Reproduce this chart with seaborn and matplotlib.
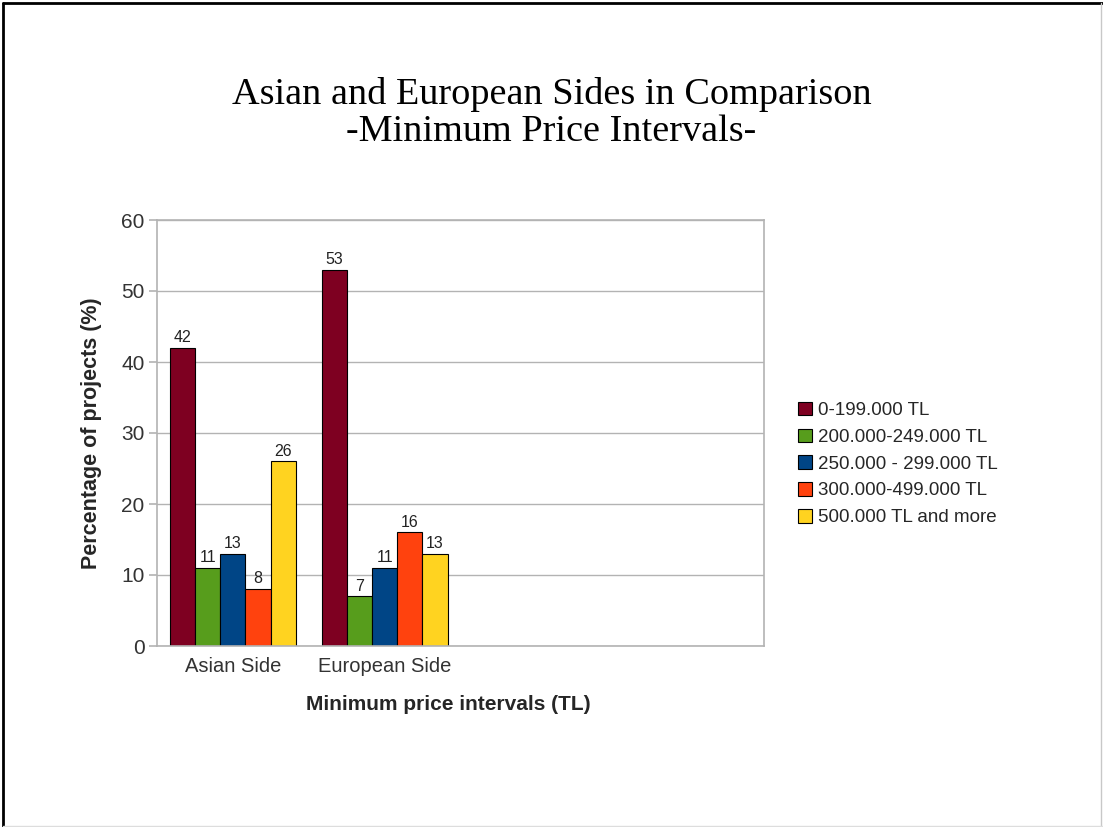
import matplotlib
matplotlib.use("Agg")
import numpy as np
import pandas as pd
import seaborn as sns
from matplotlib import pyplot as plt
from matplotlib.lines import Line2D

sides = ["Asian Side", "European Side", " ", "  "]
intervals = [
    "0-199.000 TL",
    "200.000-249.000 TL",
    "250.000 - 299.000 TL",
    "300.000-499.000 TL",
    "500.000 TL and more",
]
asian = [42, 11, 13, 8, 26]
european = [53, 7, 11, 16, 13]
colors = ["#7E0021", "#579D1C", "#004586", "#FF420E", "#FFD320"]

data = pd.DataFrame({
    "side": ["Asian Side"] * 5 + ["European Side"] * 5,
    "interval": intervals * 2,
    "pct": asian + european,
})
data["side"] = pd.Categorical(data["side"], categories=sides)

sns.set_style("white")
plt.rcParams["font.family"] = ["Liberation Sans", "DejaVu Sans"]

fig = plt.figure(figsize=(11.03, 8.27), dpi=100)
ax = fig.add_axes([157 / 1103, 1 - 646 / 827, (764 - 157) / 1103, (646 - 220) / 827])

sns.barplot(
    data=data, x="side", y="pct", hue="interval", order=sides,
    hue_order=intervals, palette=colors, width=0.83, gap=0, saturation=1,
    edgecolor="black", linewidth=0.8, ax=ax, legend=True,
)
for cont in ax.containers:
    ax.bar_label(cont, padding=2, fontsize=11.5, color="#222222")

ax.set_ylim(0, 60)
ax.set_xlim(-0.5, 3.5)
ax.set_yticks(np.arange(0, 61, 10))
ax.yaxis.grid(True, color="#b3b3b3", linewidth=1)
ax.set_axisbelow(True)
for s in ax.spines.values():
    s.set_color("#b3b3b3")
    s.set_linewidth(1.2)
ax.set_xticks([0, 1])
ax.set_xticklabels(["Asian Side", "European Side"])
ax.set_xticks([-0.5, 0.5, 1.5, 2.5, 3.5], minor=True)
ax.tick_params(axis="x", which="major", length=0, pad=8, labelsize=14.5, labelcolor="#333333")
ax.tick_params(axis="x", which="minor", length=6, color="#b3b3b3", width=1.2)
ax.tick_params(axis="y", length=6, color="#b3b3b3", width=1.2, labelsize=15,
               labelcolor="#333333", left=True, pad=3)
ax.set_xlabel("Minimum price intervals (TL)", fontsize=15, fontweight="bold")
ax.xaxis.set_label_coords(0.48, -0.115)
ax.set_ylabel("Percentage of projects (%)", fontsize=15.5, fontweight="bold", labelpad=14)

handles, labels = ax.get_legend_handles_labels()
ax.legend(handles, labels, loc="center left", bbox_to_anchor=(781 / 1103, 1 - 464 / 827),
          bbox_transform=fig.transFigure, frameon=False, fontsize=13.5,
          handlelength=0.75, handleheight=0.75, handletextpad=0.3, labelspacing=0.5)

fig.text(0.5, 1 - 113 / 827, "Asian and European Sides in Comparison\n-Minimum Price Intervals-",
         ha="center", va="center", fontsize=27.5, family="Liberation Serif",
         linespacing=1.1, color="black")

# slide frame: dark top/left, light right/bottom
fig.add_artist(Line2D([3 / 1103, 3 / 1103], [0, 1 - 3 / 827], transform=fig.transFigure,
                      color="black", linewidth=2))
fig.add_artist(Line2D([3 / 1103, 1], [1 - 3 / 827, 1 - 3 / 827], transform=fig.transFigure,
                      color="black", linewidth=2))
fig.add_artist(Line2D([1101 / 1103, 1101 / 1103], [0, 1 - 3 / 827], transform=fig.transFigure,
                      color="#c8c8c8", linewidth=1))
fig.add_artist(Line2D([3 / 1103, 1], [1 / 827, 1 / 827], transform=fig.transFigure,
                      color="#dddddd", linewidth=1))

fig.savefig("out.png", dpi=100)
